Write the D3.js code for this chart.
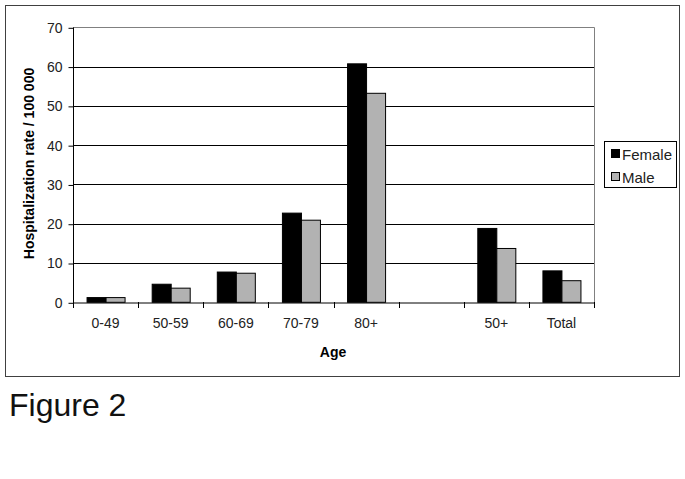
<!DOCTYPE html>
<html><head><meta charset="utf-8">
<script src="https://cdn.jsdelivr.net/npm/d3@7"></script>
<style>body{margin:0;background:#fff;}svg{display:block;font-family:"Liberation Sans",Arial,sans-serif;}</style>
</head><body>
<script>
const categories = ["0-49","50-59","60-69","70-79","80+","","50+","Total"];
const female = [1.2, 4.6, 7.7, 22.7, 60.7, null, 18.8, 8.0];
const male   = [1.2, 3.6, 7.4, 20.9, 53.2, null, 13.7, 5.5];
const seriesNames = ["Female","Male"];
const seriesColors = ["#000000","#b2b2b2"];
const yTicks = [0,10,20,30,40,50,60,70];

const W = 685, H = 479;
const svg = d3.select("body").append("svg").attr("width", W).attr("height", H);

// outer chart border
svg.append("rect").attr("x",5.5).attr("y",5.5).attr("width",674).attr("height",371)
  .attr("fill","#fff").attr("stroke","#404040").attr("stroke-width",1);

const L = 73, R = 594, T = 27.3, B = 302.3;
const x0 = d3.scaleBand().domain(categories).range([L, R]).padding(0);
const x1 = d3.scaleBand().domain(seriesNames).range([0, x0.bandwidth()]).paddingInner(0).paddingOuter(0.713);
const y = d3.scaleLinear().domain([0,70]).range([B, T]);

// gridlines
svg.append("g").selectAll("line").data(yTicks.filter(d => d > 0 && d < 70)).join("line")
  .attr("x1", L).attr("x2", R).attr("y1", d => Math.round(y(d))+0.5).attr("y2", d => Math.round(y(d))+0.5)
  .attr("stroke","#000").attr("stroke-width",1);
// top & right plot border (gray)
svg.append("line").attr("x1",L).attr("x2",R+0.5).attr("y1",Math.round(T)+0.5).attr("y2",Math.round(T)+0.5).attr("stroke","#808080");
svg.append("line").attr("x1",R+0.5).attr("x2",R+0.5).attr("y1",Math.round(T)+0.5).attr("y2",Math.round(B)+0.5).attr("stroke","#808080");

// bars
const data = categories.map((c,i) => ({c, vals:[female[i], male[i]]}));
const groups = svg.append("g").selectAll("g").data(data).join("g")
  .attr("transform", d => `translate(${x0(d.c)},0)`);
groups.selectAll("rect").data(d => d.vals.map((v,j) => ({name: seriesNames[j], v, j})).filter(e => e.v != null))
  .join("rect")
  .attr("x", e => x1(e.name)+0.5)
  .attr("y", e => y(e.v))
  .attr("width", x1.bandwidth())
  .attr("height", e => y(0) - y(e.v))
  .attr("fill", e => seriesColors[e.j])
  .attr("stroke","#000").attr("stroke-width",1);

// y axis
const yAxis = d3.axisLeft(y).tickValues(yTicks).tickSize(5).tickPadding(6);
const gy = svg.append("g").attr("transform",`translate(${L+0.5},0.5)`).call(yAxis);
gy.select(".domain").attr("stroke","#000").attr("d", `M0,${Math.round(T)}V${Math.round(B)}`);
gy.selectAll(".tick line").attr("stroke","#000");
gy.selectAll("text").attr("font-size",14).attr("fill","#222").attr("font-family","Liberation Sans, Arial, sans-serif");

// x axis: labels centered, ticks at band edges
const xAxis = d3.axisBottom(x0).tickSize(0).tickPadding(16);
const gx = svg.append("g").attr("transform",`translate(0,${Math.round(B)+0.5})`).call(xAxis);
gx.select(".domain").attr("stroke","#000");
gx.selectAll("text").attr("font-size",14).attr("fill","#222").attr("font-family","Liberation Sans, Arial, sans-serif");
const edges = categories.map(c => x0(c)).concat([x0.range()[1]]);
svg.append("g").selectAll("line").data(edges).join("line")
  .attr("x1", d => Math.round(d)+0.5).attr("x2", d => Math.round(d)+0.5)
  .attr("y1", Math.round(B)).attr("y2", Math.round(B)+6).attr("stroke","#000");

// axis titles
svg.append("text").attr("transform",`translate(34,163.5) rotate(-90)`).attr("text-anchor","middle")
  .attr("font-size",14).attr("font-weight","bold").text("Hospitalization rate / 100 000");
svg.append("text").attr("x",333).attr("y",357).attr("text-anchor","middle")
  .attr("font-size",14).attr("font-weight","bold").text("Age");

// legend
const lg = svg.append("g");
lg.append("rect").attr("x",604.5).attr("y",141.5).attr("width",72).attr("height",46).attr("fill","#fff").attr("stroke","#000");
seriesNames.forEach((n,i) => {
  lg.append("rect").attr("x",611.5).attr("y",149.5 + i*23).attr("width",8).attr("height",8)
    .attr("fill",seriesColors[i]).attr("stroke","#000");
  lg.append("text").attr("x",622).attr("y",159.5 + i*23).attr("font-size",15).attr("fill","#222").text(n);
});

// figure caption
svg.append("text").attr("x",9).attr("y",416).attr("font-size",32).attr("fill","#111").text("Figure 2");
</script>
</body></html>
